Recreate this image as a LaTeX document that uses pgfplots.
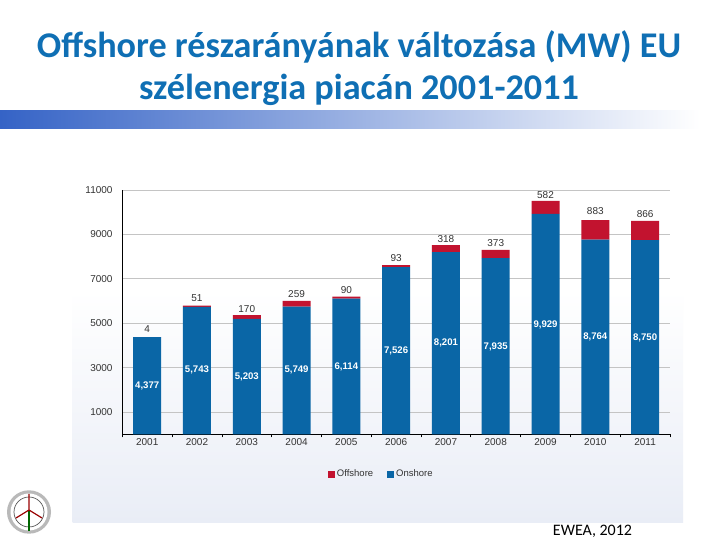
\documentclass[border=0pt]{standalone}
\usepackage{fontspec}
\setmainfont{Carlito}
\newfontfamily\chartfont{Liberation Sans}
\usepackage{pgfplots}
\usepackage{pgfplotstable}
\pgfplotsset{compat=1.18}

\definecolor{titleblue}{HTML}{0F6FB4}
\definecolor{onshore}{HTML}{0A66A6}
\definecolor{offshore}{HTML}{C2132F}
\definecolor{gridgray}{HTML}{C4C4C4}
\definecolor{labelgray}{HTML}{333333}
\definecolor{panelblue}{HTML}{E9EDF6}
\definecolor{bandblue}{HTML}{3563C6}

% x, onshore, offshore
\pgfplotstableread{
x on off
0 4377 4
1 5743 51
2 5203 170
3 5749 259
4 6114 90
5 7526 93
6 8201 318
7 7935 373
8 9929 582
9 8764 883
10 8750 866
}\bars

% where the value labels sit in the picture
\pgfplotstableread{
x y lab
0 2176 4,377
1 2880 5,743
2 2581 5,203
3 2880 5,749
4 3031 6,114
5 3752 7,526
6 4099 8,201
7 3946 7,935
8 4937 9,929
9 4369 8,764
10 4324 8,750
}\inlabels

\pgfplotstableread{
x y lab
0 4730 4
1 6126 51
2 5658 170
3 6306 259
4 6500 90
5 7928 93
6 8811 318
7 8631 373
8 10766 582
9 10045 883
10 9923 866
}\toplabels

\pgfplotsset{
  base/.style={
    at={(122.3pt,105.7pt)}, anchor=south west,
    scale only axis, width=547.7pt, height=244.2pt,
    xmin=-0.5, xmax=10.5, ymin=0, ymax=11000,
  },
}

\begin{document}
\begin{tikzpicture}[x=1pt,y=1pt]
\useasboundingbox (0,0) rectangle (720,540);
\fill[white] (0,0) rectangle (720,540);
% backdrop of the slide
\shade[top color=white,bottom color=panelblue] (72.5,17) rectangle (683,250);
\shade[left color=bandblue,right color=white] (0,411) rectangle (700,429.5);
\node[text=titleblue,font=\fontsize{36.2}{42}\selectfont\bfseries,align=center] at (359,472)
  {Offshore részarányának változása (MW) EU\\szélenergia piacán 2001-2011};
\node[font=\fontsize{16}{18}\selectfont,text=black,anchor=base] at (592.5,4.5) {EWEA, 2012};
% logo
\begin{scope}[shift={(29,28)}]
  \fill[gray!55] (0,0) ellipse (22 and 21.7);
  \fill[white] (0,0) ellipse (18.5 and 18.5);
  \draw[gray!70!black,line width=0.7pt] (0,0) circle (15);
  \draw[green!40!black,line width=1.2pt] (0,2) -- (0,-19);
  \draw[red!60!black,line width=1.2pt] (0,2) -- (0,18) (0,2) -- (-13,-6) (0,2) -- (13,-6);
\end{scope}

\begin{axis}[
  base,
  ybar stacked, bar width=28pt,
  axis x line*=bottom, axis y line*=left,
  axis line style={black,line width=0.7pt,-},
  ymajorgrids, grid style={gridgray,line width=0.8pt},
  scaled y ticks=false,
  ytick={1000,3000,5000,7000,9000,11000},
  xtick={0,...,10},
  xticklabels={2001,2002,2003,2004,2005,2006,2007,2008,2009,2010,2011},
  minor xtick={-0.5,0.5,...,10.5},
  major x tick style={draw=none},
  minor x tick style={black,line width=0.7pt},
  minor tick length=3pt,
  y tick style={draw=none},
  tick align=outside,
  /pgf/number format/assume math mode=true,
  /pgf/number format/1000 sep={},
  tick label style={font=\chartfont\fontsize{10}{12}\selectfont,text=labelgray},
  xticklabel style={yshift=3.5pt},
  yticklabel style={xshift=-2pt},
  legend columns=2,
  legend style={
    at={(259pt,-40pt)}, anchor=center, draw=none, fill=none,
    font=\chartfont\fontsize{9.5}{11}\selectfont,text=labelgray,
    /tikz/every even column/.style={column sep=12pt},
  },
  legend image code/.code={\fill[#1] (0pt,-3.5pt) rectangle (7pt,3.5pt);},
  reverse legend,
]
\addplot[fill=onshore,draw=none] table[x=x,y=on] {\bars};
\addplot[fill=offshore,draw=none] table[x=x,y=off] {\bars};
\legend{Onshore,Offshore}
\end{axis}

\begin{axis}[base,hide axis,clip=false]
\addplot[draw=none,mark=none,nodes near coords,point meta=explicit symbolic,
  nodes near coords align=center,
  every node near coord/.append style={font=\chartfont\bfseries\fontsize{9.6}{11}\selectfont,text=white,inner sep=0pt}]
  table[x=x,y=y,meta=lab] {\inlabels};
\addplot[draw=none,mark=none,nodes near coords,point meta=explicit symbolic,
  nodes near coords align=center,
  every node near coord/.append style={font=\chartfont\fontsize{10}{11}\selectfont,text=labelgray,inner sep=0pt}]
  table[x=x,y=y,meta=lab] {\toplabels};
\end{axis}
\end{tikzpicture}
\end{document}
